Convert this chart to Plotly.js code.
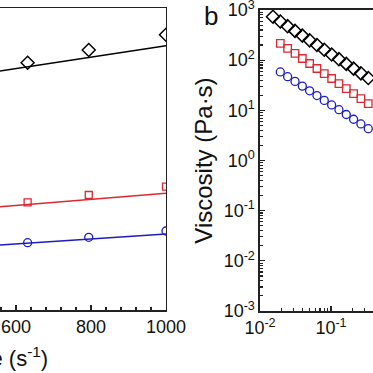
<!DOCTYPE html>
<html>
<head>
<meta charset="utf-8">
<script src="https://cdn.plot.ly/plotly-3.0.1.min.js"></script>
<style>
html,body{margin:0;padding:0;overflow:hidden;background:#fff;width:373px;height:373px;}
#wrap{position:absolute;left:-300px;top:0;}
</style>
</head>
<body>
<div id="wrap"><div id="chart" style="width:860px;height:373px;"></div></div>
<script>
// ---- Panel a (linear), visible part: x = shear rate, y arbitrary units
const aRate = [631, 794, 1000];
const aBlack = [247.3, 260, 275.3];
const aRed = [107.7, 115, 123.3];
const aBlue = [67.3, 72.7, 79];
const aFitX = [400, 1000];
const aFitBlack = [230.0, 264.3];
const aFitRed = [98.6, 116.7];
const aFitBlue = [61.1, 76];

// ---- Panel b (log-log): viscosity vs shear rate
const bRateBlack = [0.01524, 0.01932, 0.02449, 0.03112, 0.03945, 0.05000, 0.06339, 0.08035, 0.1021, 0.1294, 0.1641, 0.2080, 0.2636, 0.3350];
const bBlack = [734.5, 591.6, 476.4, 383.7, 309.0, 248.9, 200.4, 161.4, 130.0, 104.7, 84.3, 67.9, 54.7, 44.1];
const bRateColor = [0.01932, 0.02449, 0.03112, 0.03945, 0.05000, 0.06339, 0.08035, 0.1021, 0.1294, 0.1641, 0.2080, 0.2636, 0.3350];
const bRed = [215.8, 171.4, 136.1, 108.1, 85.9, 68.2, 54.2, 43.1, 34.2, 27.2, 21.6, 17.1, 13.6];
const bBlue = [58.3, 46.9, 37.8, 30.4, 24.5, 19.7, 15.8, 12.8, 10.3, 8.26, 6.65, 5.35, 4.31];

const bYTickVals = [0.001, 0.01, 0.1, 1, 10, 100, 1000];
const bYTickText = ['10<sup>-3</sup>','10<sup>-2</sup>','10<sup>-1</sup>','10<sup>0</sup>','10<sup>1</sup>','10<sup>2</sup>','10<sup>3</sup>'];
const bXTickVals = [0.01, 0.1, 1, 10, 100];
const bXTickText = ['10<sup>-2</sup>','10<sup>-1</sup>','10<sup>0</sup>','10<sup>1</sup>','10<sup>2</sup>'];

const aXTitle = 'Shear rate (s<sup>-1</sup>)';
const bYTitle = 'Viscosity (Pa·s)';
const panelLabel = 'b';

const BLACK = '#000000', RED = '#dc2830', BLUE = '#1c1cc0';
const FONT = 'Liberation Sans, Arial, sans-serif';

const traces = [
  {x: aFitX, y: aFitBlack, mode: 'lines', line: {color: BLACK, width: 1.5}, xaxis: 'x', yaxis: 'y'},
  {x: aFitX, y: aFitRed, mode: 'lines', line: {color: RED, width: 1.5}, xaxis: 'x', yaxis: 'y'},
  {x: aFitX, y: aFitBlue, mode: 'lines', line: {color: BLUE, width: 1.5}, xaxis: 'x', yaxis: 'y'},
  {x: aRate, y: aBlack, mode: 'markers', marker: {symbol: 'diamond-open', size: 10, color: BLACK, line: {width: 1.5}}, xaxis: 'x', yaxis: 'y'},
  {x: aRate, y: aRed, mode: 'markers', marker: {symbol: 'square-open', size: 7, color: RED, line: {width: 1.3}}, xaxis: 'x', yaxis: 'y'},
  {x: aRate, y: aBlue, mode: 'markers', marker: {symbol: 'circle-open', size: 8, color: BLUE, line: {width: 1.3}}, xaxis: 'x', yaxis: 'y'},
  {x: bRateBlack, y: bBlack, mode: 'markers', marker: {symbol: 'diamond-open', size: 10, color: BLACK, line: {width: 1.5}}, xaxis: 'x2', yaxis: 'y2'},
  {x: bRateColor, y: bRed, mode: 'markers', marker: {symbol: 'square-open', size: 7.5, color: RED, line: {width: 1.3}}, xaxis: 'x2', yaxis: 'y2'},
  {x: bRateColor, y: bBlue, mode: 'markers', marker: {symbol: 'circle-open', size: 8, color: BLUE, line: {width: 1.3}}, xaxis: 'x2', yaxis: 'y2'}
];

const axCommon = {
  showgrid: false, zeroline: false, showline: true, linecolor: '#222', linewidth: 1.5,
  mirror: true, ticks: 'inside', ticklen: 5, tickwidth: 1.2, tickcolor: '#222',
  ticklabeloverflow: 'allow',
  tickfont: {family: FONT, size: 18, color: '#111'}
};

const layout = {
  width: 860, height: 373,
  margin: {l: 91, r: 16, t: 8, b: 62},
  paper_bgcolor: '#fff', plot_bgcolor: '#fff',
  showlegend: false,
  font: {family: FONT, color: '#111'},
  xaxis: Object.assign({}, axCommon, {
    domain: [0, 0.498], range: [0, 1000], dtick: 200, anchor: 'y',
    minor: {dtick: 40, ticks: 'inside', ticklen: 3, tickcolor: '#222', showgrid: false}
  }),
  yaxis: Object.assign({}, axCommon, {
    domain: [0.0033, 1], range: [0, 302], anchor: 'x'
  }),
  xaxis2: Object.assign({}, axCommon, {
    domain: [0.6228, 1], type: 'log', range: [-2.0005, 2], anchor: 'y2',
    tickvals: bXTickVals, ticktext: bXTickText,
    minor: {dtick: 'D1', ticks: 'inside', ticklen: 3, tickcolor: '#222', showgrid: false}
  }),
  yaxis2: Object.assign({}, axCommon, {
    domain: [0, 0.9934], type: 'log', range: [-3.0005, 3.0005], anchor: 'x2',
    tickvals: bYTickVals, ticktext: bYTickText,
    minor: {dtick: 'D1', ticks: 'inside', ticklen: 3, tickcolor: '#222', showgrid: false},
    title: {text: bYTitle, font: {family: FONT, size: 24, color: '#111'}, standoff: 4}
  }),
  annotations: [
    {text: aXTitle, xref: 'paper', yref: 'paper', x: 0.344, y: -0.152, xanchor: 'right', yanchor: 'middle',
     showarrow: false, font: {family: FONT, size: 22, color: '#111'}},
    {text: panelLabel, xref: 'paper', yref: 'paper', x: 0.5584, y: 0.972, xanchor: 'center', yanchor: 'middle',
     showarrow: false, font: {family: FONT, size: 26, color: '#111'}}
  ]
};

Plotly.newPlot('chart', traces, layout, {staticPlot: true, displayModeBar: false});
</script>
</body>
</html>
